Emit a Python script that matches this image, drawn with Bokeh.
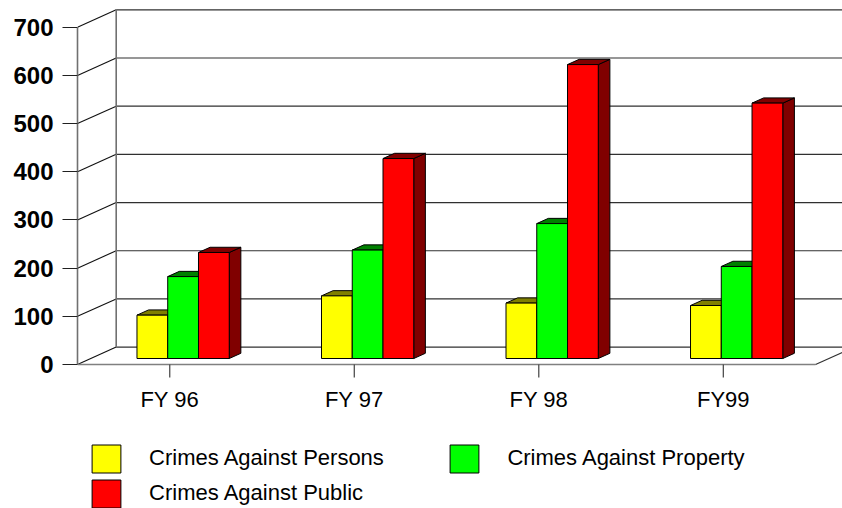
from bokeh.plotting import figure
from bokeh.models import LinearAxis, FixedTicker, Range1d, Legend, LegendItem, ColumnDataSource
from bokeh.embed import file_html
from bokeh.resources import INLINE
from bokeh.core.properties import value

# ---------------- data ----------------
categories = ["FY 96", "FY 97", "FY 98", "FY99"]
series_names = ["Crimes Against Persons", "Crimes Against Property", "Crimes Against Public"]
persons = [90, 130, 115, 110]
property_ = [170, 225, 280, 191]
public = [220, 415, 610, 530]
y_ticks = [0, 100, 200, 300, 400, 500, 600, 700]

series_values = [persons, property_, public]
front_colors = ["#FFFF00", "#00FF00", "#FF0000"]
dark_colors = ["#808000", "#008000", "#800000"]

# ---------------- geometry ----------------
W, H = 842, 508
LEFT = 77
X0, X1 = -0.5, 3.646
Y0, Y1 = -298.8, 755.4
kx = (W - LEFT) / (X1 - X0)   # px per x unit
ky = H / (Y1 - Y0)            # px per y unit

DEPTH_X = 38.7 / kx
DEPTH_Y = 17.4 / ky
BAR_F = 0.345      # depth fraction of bar front face
BAR_B = 0.30       # bar depth fraction
BAR_W = 1.0 / 6.0
GROUP_HALF = 0.25
X_END = len(categories) - 0.5
YMAX = y_ticks[-1]

p = figure(width=W, height=H, output_backend="svg", toolbar_location=None,
           x_range=Range1d(X0, X1), y_range=Range1d(Y0, Y1),
           x_axis_type=None, y_axis_type=None,
           min_border_left=LEFT, min_border_right=0, min_border_top=0, min_border_bottom=0)
p.outline_line_color = None
p.grid.visible = False
p.background_fill_color = "white"
p.border_fill_color = "white"

# y axis
yaxis = LinearAxis(bounds=(0, YMAX), ticker=FixedTicker(ticks=y_ticks, minor_ticks=[]))
yaxis.axis_line_color = "#707070"
yaxis.axis_line_width = 1.6
yaxis.major_tick_line_color = "#202020"
yaxis.major_tick_line_width = 1.2
yaxis.major_tick_out = 15
yaxis.major_tick_in = 0
yaxis.minor_tick_out = 0
yaxis.minor_tick_in = 0
yaxis.major_label_standoff = 9
yaxis.major_label_text_font = "Liberation Sans"
yaxis.major_label_text_font_style = "bold"
yaxis.major_label_text_font_size = "24px"
yaxis.major_label_text_color = "black"
p.add_layout(yaxis, "left")

# back wall grid lines
bx0 = X0 + DEPTH_X
p.segment(x0=[bx0] * len(y_ticks), y0=[t + DEPTH_Y for t in y_ticks],
          x1=[X1 + 1] * len(y_ticks), y1=[t + DEPTH_Y for t in y_ticks],
          line_color="#303030", line_width=1.2)
# slanted side-wall lines
p.segment(x0=[X0] * len(y_ticks), y0=y_ticks,
          x1=[bx0] * len(y_ticks), y1=[t + DEPTH_Y for t in y_ticks],
          line_color="#101010", line_width=1.1)
# back wall left edge
p.segment(x0=[bx0], y0=[DEPTH_Y], x1=[bx0], y1=[YMAX + DEPTH_Y],
          line_color="#707070", line_width=1.6)
# floor edges
p.segment(x0=[X0], y0=[0], x1=[X_END], y1=[0], line_color="#808080", line_width=1.6)
p.segment(x0=[X_END], y0=[0], x1=[X_END + DEPTH_X], y1=[DEPTH_Y], line_color="#303030", line_width=1.1)

# category ticks and labels
n = len(categories)
idx = list(range(n))
p.segment(x0=idx, y0=[0] * n, x1=idx, y1=[-13 / ky] * n, line_color="#404040", line_width=1.2)
p.text(x=idx, y=[-35 / ky] * n, text=categories, text_align="center", text_baseline="middle",
       text_font=value("Liberation Sans"), text_font_size="22px", text_color="black")

# 3D bars
bx = BAR_B * DEPTH_X
by = BAR_B * DEPTH_Y
fx = BAR_F * DEPTH_X
fy = BAR_F * DEPTH_Y
front_renderers = []
for s, vals in enumerate(series_values):
    lefts = [i - GROUP_HALF + s * BAR_W + fx for i in idx]
    rights = [l + BAR_W for l in lefts]
    bottoms = [fy] * n
    tops = [fy + v for v in vals]
    side_xs = [[r, r + bx, r + bx, r] for r in rights]
    side_ys = [[b, b + by, t + by, t] for b, t in zip(bottoms, tops)]
    top_xs = [[l, r, r + bx, l + bx] for l, r in zip(lefts, rights)]
    top_ys = [[t, t, t + by, t + by] for t in tops]
    p.patches(xs=side_xs, ys=side_ys, fill_color=dark_colors[s], line_color="black", line_width=1)
    p.patches(xs=top_xs, ys=top_ys, fill_color=dark_colors[s], line_color="black", line_width=1)
    src = ColumnDataSource(dict(left=lefts, right=rights, bottom=bottoms, top=tops))
    r = p.quad(left="left", right="right", bottom="bottom", top="top", source=src,
               fill_color=front_colors[s], line_color="black", line_width=1)
    front_renderers.append(r)

# legends
def make_legend(items, loc):
    lg = Legend(items=items, location=loc, orientation="vertical")
    lg.glyph_width = 36
    lg.glyph_height = 35
    lg.spacing = 0
    lg.padding = 0
    lg.margin = 0
    lg.label_standoff = 25
    lg.label_text_font = "Liberation Sans"
    lg.label_text_font_size = "22px"
    lg.label_text_color = "black"
    lg.border_line_alpha = 0
    lg.background_fill_alpha = 0
    return lg

leg1 = make_legend([LegendItem(label=series_names[0], renderers=[front_renderers[0]]),
                    LegendItem(label=series_names[2], renderers=[front_renderers[2]])], (11.1, -2.8))
leg2 = make_legend([LegendItem(label=series_names[1], renderers=[front_renderers[1]])], (369.4, 32.2))
p.add_layout(leg1)
p.add_layout(leg2)

open("out.html", "w").write(file_html(p, INLINE))
